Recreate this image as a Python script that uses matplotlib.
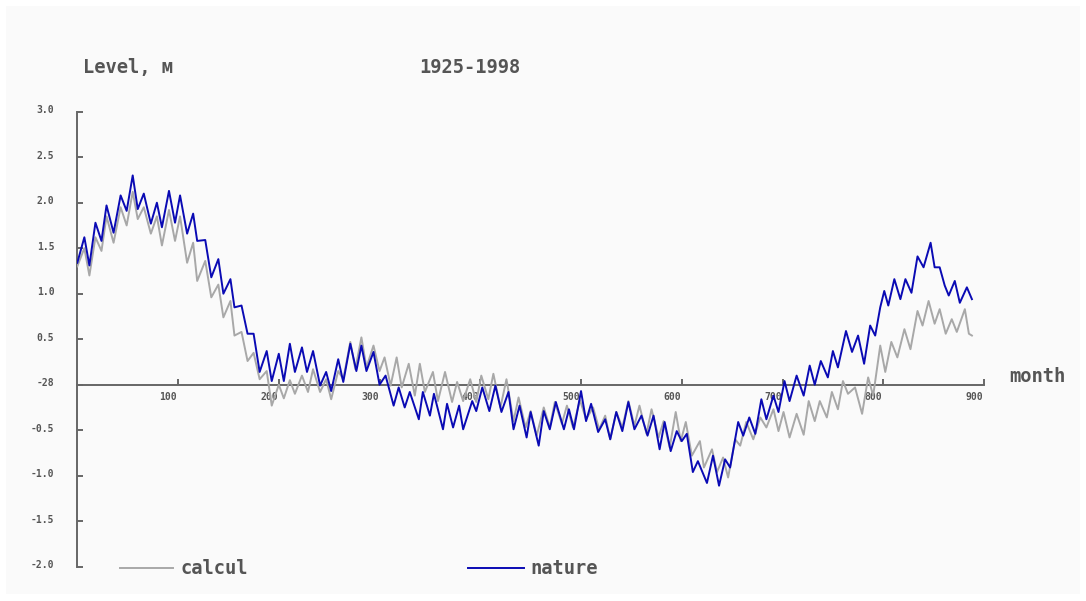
import matplotlib
matplotlib.use("Agg")
import matplotlib.pyplot as plt
from matplotlib.patches import Rectangle

# Monthly lake level, 1925-1998: seasonal highs and lows (month index, level in m)
nature_month = [0, 7, 12, 18, 24, 29, 36, 43, 49, 55, 60, 66, 73, 79, 84, 91, 97, 102,
                109, 115, 119, 127, 133, 140, 145, 152, 156, 163, 169, 175, 181, 188,
                193, 200, 205, 211, 216, 223, 228, 234, 241, 247, 252, 259, 264, 271,
                277, 282, 287, 294, 300, 306, 314, 319, 325, 330, 339, 343, 350, 354,
                363, 367, 373, 379, 383, 392, 396, 402, 409, 415, 421, 428, 433, 439,
                446, 450, 458, 463, 469, 475, 483, 488, 493, 500, 505, 510, 517, 524,
                529, 535, 541, 547, 553, 560, 566, 572, 578, 583, 589, 595, 600, 605,
                611, 616, 625, 631, 637, 643, 648, 656, 661, 667, 673, 679, 684, 691,
                696, 702, 707, 714, 721, 727, 732, 738, 745, 750, 755, 763, 769, 775,
                781, 787, 792, 797, 801, 805, 811, 817, 822, 828, 834, 840, 847, 851,
                856, 861, 865, 871, 876, 883, 888]
nature_level = [1.34, 1.62, 1.31, 1.78, 1.58, 1.97, 1.67, 2.08, 1.91, 2.30, 1.93, 2.10,
                1.77, 2.00, 1.73, 2.13, 1.78, 2.08, 1.66, 1.88, 1.58, 1.59, 1.18, 1.38,
                1.00, 1.16, 0.85, 0.87, 0.56, 0.56, 0.14, 0.37, 0.04, 0.34, 0.04, 0.45,
                0.14, 0.41, 0.14, 0.37, -0.01, 0.14, -0.07, 0.28, 0.03, 0.45, 0.15, 0.43,
                0.15, 0.36, 0.00, 0.10, -0.23, -0.03, -0.25, -0.08, -0.38, -0.08, -0.34,
                -0.10, -0.49, -0.21, -0.47, -0.23, -0.49, -0.18, -0.29, -0.03, -0.29,
                -0.01, -0.30, -0.08, -0.49, -0.23, -0.58, -0.30, -0.67, -0.29, -0.49,
                -0.19, -0.49, -0.27, -0.49, -0.07, -0.40, -0.21, -0.52, -0.38, -0.60,
                -0.30, -0.51, -0.19, -0.49, -0.34, -0.56, -0.34, -0.71, -0.41, -0.73,
                -0.51, -0.62, -0.54, -0.96, -0.84, -1.08, -0.78, -1.11, -0.82, -0.91,
                -0.41, -0.56, -0.36, -0.54, -0.16, -0.38, -0.12, -0.30, 0.04, -0.18,
                0.10, -0.12, 0.21, 0.00, 0.26, 0.08, 0.37, 0.19, 0.59, 0.36, 0.54, 0.23,
                0.65, 0.54, 0.85, 1.03, 0.87, 1.16, 0.94, 1.16, 1.01, 1.41, 1.29, 1.56,
                1.29, 1.29, 1.09, 0.98, 1.14, 0.90, 1.07, 0.94]

calcul_month = [0, 7, 12, 18, 24, 29, 36, 43, 49, 55, 60, 66, 73, 79, 84, 91, 97, 102,
                109, 115, 119, 127, 133, 140, 145, 152, 156, 163, 169, 175, 181, 188,
                193, 200, 205, 211, 216, 223, 229, 234, 241, 247, 252, 259, 264, 271,
                276, 282, 287, 294, 300, 305, 311, 317, 322, 329, 335, 340, 345, 353,
                358, 365, 372, 377, 383, 390, 396, 401, 408, 413, 420, 426, 433, 438,
                445, 450, 456, 463, 469, 474, 481, 486, 492, 499, 505, 512, 518, 524,
                529, 535, 541, 547, 553, 558, 565, 570, 577, 582, 588, 594, 599, 604,
                610, 618, 622, 630, 635, 641, 646, 653, 658, 664, 671, 678, 684, 691,
                696, 701, 707, 714, 721, 726, 732, 737, 744, 749, 755, 760, 765, 772,
                779, 785, 790, 797, 802, 808, 814, 821, 827, 834, 839, 845, 851, 856,
                862, 868, 873, 881, 885, 888]
calcul_level = [1.30, 1.50, 1.20, 1.62, 1.47, 1.85, 1.56, 1.95, 1.75, 2.12, 1.82, 1.95,
                1.66, 1.85, 1.53, 1.92, 1.58, 1.85, 1.34, 1.56, 1.14, 1.36, 0.96, 1.10,
                0.74, 0.92, 0.54, 0.58, 0.26, 0.35, 0.06, 0.15, -0.23, 0.00, -0.15,
                0.05, -0.10, 0.10, -0.08, 0.17, -0.08, 0.06, -0.16, 0.15, 0.06, 0.47,
                0.17, 0.52, 0.19, 0.43, 0.15, 0.30, -0.01, 0.30, -0.03, 0.23, -0.12,
                0.23, -0.08, 0.14, -0.18, 0.14, -0.19, 0.03, -0.18, 0.06, -0.19, 0.10,
                -0.16, 0.12, -0.25, 0.06, -0.40, -0.14, -0.47, -0.29, -0.56, -0.25,
                -0.47, -0.19, -0.43, -0.23, -0.47, -0.17, -0.38, -0.25, -0.49, -0.34,
                -0.60, -0.30, -0.47, -0.18, -0.45, -0.23, -0.54, -0.27, -0.58, -0.40,
                -0.69, -0.30, -0.62, -0.41, -0.78, -0.62, -0.91, -0.71, -0.96, -0.80,
                -1.02, -0.60, -0.67, -0.41, -0.60, -0.36, -0.47, -0.27, -0.51, -0.30,
                -0.58, -0.32, -0.55, -0.18, -0.40, -0.18, -0.36, -0.08, -0.27, 0.04,
                -0.10, -0.03, -0.32, 0.08, -0.12, 0.43, 0.14, 0.47, 0.30, 0.61, 0.39,
                0.81, 0.65, 0.92, 0.67, 0.83, 0.56, 0.72, 0.58, 0.83, 0.56, 0.54]

x_ticks = [100, 200, 300, 400, 500, 600, 700, 800, 900]
x_tick_labels = ["100", "200", "300", "400", "500", "600", "700", "800", "900"]
y_ticks = [3.0, 2.5, 2.0, 1.5, 1.0, 0.5, 0.0, -0.5, -1.0, -1.5, -2.0]
y_tick_labels = ["3.0", "2.5", "2.0", "1.5", "1.0", "0.5", "-28", "-0.5", "-1.0", "-1.5", "-2.0"]

W, H = 1086, 601
fig = plt.figure(figsize=(W / 100, H / 100), dpi=100, facecolor="white")
fig.patches.append(Rectangle((6 / W, 7 / H), 1074 / W, 588 / H, transform=fig.transFigure,
                             facecolor="#fafafa", edgecolor="none", zorder=-5))

x0, x1 = 77.3, 984.0
y_top, y_bot = 111.7, 566.7
ax = fig.add_axes([x0 / W, 1 - y_bot / H, (x1 - x0) / W, (y_bot - y_top) / H])
ax.set_xlim(0, 900)
ax.set_ylim(-2.0, 3.0)
ax.patch.set_visible(False)

axis_color = "#666666"
text_color = "#555555"
mono = ["DejaVu Sans Mono"]

for side in ("top", "right"):
    ax.spines[side].set_visible(False)
ax.spines["left"].set_color(axis_color)
ax.spines["left"].set_linewidth(1.4)
ax.spines["bottom"].set_position(("data", 0))
ax.spines["bottom"].set_color(axis_color)
ax.spines["bottom"].set_linewidth(1.4)

ax.set_xticks(x_ticks)
ax.set_xticklabels([])
ax.set_yticks(y_ticks)
ax.set_yticklabels([])
ax.tick_params(axis="both", direction="in", length=4, width=1.4, color=axis_color)

for m, lab in zip(x_ticks, x_tick_labels):
    ax.annotate(lab, (m, 0), xytext=(-7, -8.5), textcoords="offset points",
                ha="center", va="center", fontsize=7, family=mono,
                fontweight="bold", color=text_color, zorder=1)
for v, lab in zip(y_ticks, y_tick_labels):
    ax.annotate(lab, (0, v), xytext=(-16.5, 1.2), textcoords="offset points",
                ha="right", va="center", fontsize=7, family=mono,
                fontweight="bold", color=text_color, zorder=1)

ax.plot(calcul_month, calcul_level, color="#a8a8a8", lw=1.4, zorder=3)
ax.plot(nature_month, nature_level, color="#0a0ab4", lw=1.4, zorder=4)

big = dict(fontsize=13.5, family=mono, fontweight="bold", color=text_color)
fig.text(83 / W, 1 - 67.5 / H, "Level, м", ha="left", va="center", **big)
fig.text(470 / W, 1 - 67.5 / H, "1925-1998", ha="center", va="center", **big)
fig.text(1037 / W, 1 - 376 / H, "month", ha="center", va="center", **big)

# legend drawn as short line samples with labels along the bottom
fig.lines.append(plt.Line2D([120 / W, 173 / W], [1 - 568 / H] * 2, transform=fig.transFigure,
                            color="#a8a8a8", lw=1.4))
fig.text(180 / W, 1 - 568 / H, "calcul", ha="left", va="center", **big)
fig.lines.append(plt.Line2D([468 / W, 524 / W], [1 - 568 / H] * 2, transform=fig.transFigure,
                            color="#0a0ab4", lw=1.4))
fig.text(530 / W, 1 - 568 / H, "nature", ha="left", va="center", **big)

fig.savefig("out.png", dpi=100, facecolor="white")
